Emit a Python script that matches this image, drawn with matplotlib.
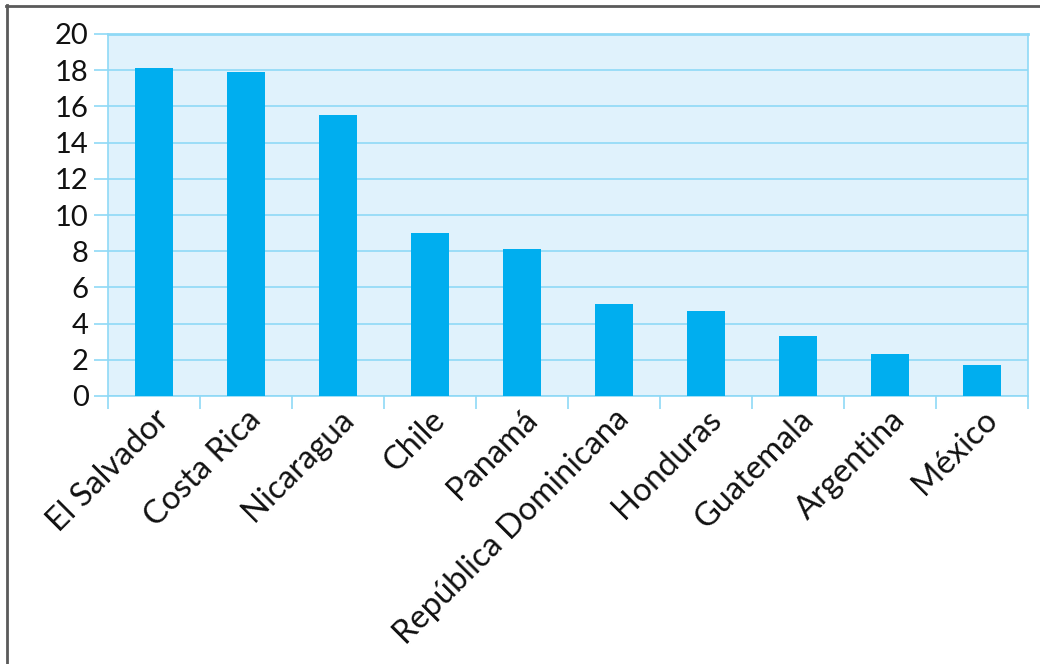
import numpy as np
import matplotlib.pyplot as plt
from matplotlib.lines import Line2D

# Datos del gráfico
paises = ["El Salvador", "Costa Rica", "Nicaragua", "Chile", "Panamá",
          "República Dominicana", "Honduras", "Guatemala", "Argentina", "México"]
valores = [18.1, 17.9, 15.5, 9.0, 8.1, 5.1, 4.7, 3.3, 2.3, 1.7]
y_ticks = [0, 2, 4, 6, 8, 10, 12, 14, 16, 18, 20]

BAR = "#00AEEF"
BG = "#E0F2FC"
GRID = "#8FD9F6"

plt.rcParams["font.family"] = ["Lato", "DejaVu Sans"]

fig = plt.figure(figsize=(10.4, 6.64), dpi=100)
ax = fig.add_axes([108 / 1040, 1 - 396 / 664, 920 / 1040, 362 / 664])
ax.set_facecolor(BG)

x = np.arange(len(paises))
ax.bar(x, valores, width=0.42, color=BAR, zorder=3)

ax.set_xlim(-0.5, len(paises) - 0.5)
ax.set_ylim(0, 20)
ax.set_yticks(y_ticks)
ax.set_yticklabels([str(t) for t in y_ticks], fontsize=21, color="#111111")
ax.yaxis.grid(True, color=GRID, linewidth=1.2, zorder=1)
ax.tick_params(axis="y", length=10, color=GRID, width=1.2, pad=4)

# etiquetas en el centro, marcas en los bordes de cada categoría
ax.set_xticks(x)
ax.set_xticklabels(paises, rotation=45, ha="right", rotation_mode="anchor",
                   fontsize=23.5, color="#111111")
ax.tick_params(axis="x", which="major", length=0, pad=6)
ax.set_xticks(np.arange(-0.5, len(paises), 1), minor=True)
ax.tick_params(axis="x", which="minor", length=9, color=GRID, width=1.2)

for s in ax.spines.values():
    s.set_color(GRID)
    s.set_linewidth(1.2)
ax.spines["top"].set_linewidth(2)

# marco gris de la figura
fig.add_artist(Line2D([7 / 1040, 7 / 1040], [0, 1 - 5 / 664], color="#5a5a5a",
                      linewidth=2, transform=fig.transFigure))
fig.add_artist(Line2D([6 / 1040, 1], [1 - 5.5 / 664, 1 - 5.5 / 664], color="#5a5a5a",
                      linewidth=2, transform=fig.transFigure))

fig.savefig("out.png", dpi=100)
